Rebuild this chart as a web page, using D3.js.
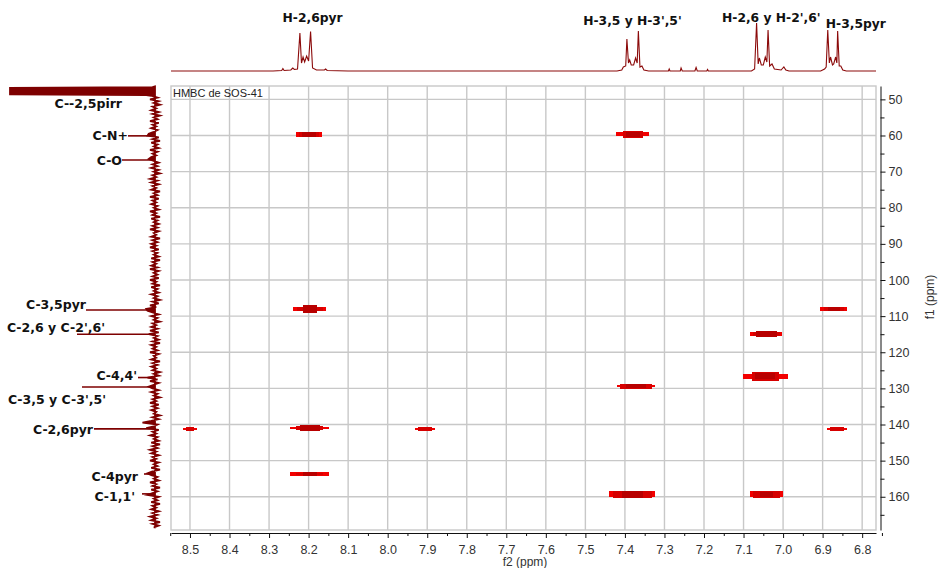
<!DOCTYPE html>
<html>
<head>
<meta charset="utf-8">
<script src="https://cdn.jsdelivr.net/npm/d3@7"></script>
<style>
  body { margin: 0; background: #fff; }
  svg { display: block; }
</style>
</head>
<body>
<svg id="chart" width="939" height="568"></svg>
<script>
// ---- Axis ticks -------------------------------------------------------
const f2Ticks = [8.5, 8.4, 8.3, 8.2, 8.1, 8.0, 7.9, 7.8, 7.7, 7.6, 7.5, 7.4, 7.3, 7.2, 7.1, 7.0, 6.9, 6.8];
const f2MinorTicks = [8.55, 8.45, 8.35, 8.25, 8.15, 8.05, 7.95, 7.85, 7.75, 7.65, 7.55, 7.45, 7.35, 7.25, 7.15, 7.05, 6.95, 6.85, 6.75];
const f1Ticks = [50, 60, 70, 80, 90, 100, 110, 120, 130, 140, 150, 160];
const f1MinorTicks = [55, 65, 75, 85, 95, 105, 115, 125, 135, 145, 155, 165];

// ---- HMBC cross peaks (f2 = 1H ppm, f1 = 13C ppm) --------------------
const peakF2 = [8.199, 7.380, 8.197, 6.872, 7.043, 7.045, 7.372, 8.500, 8.197, 7.905, 6.864, 8.197, 7.381, 7.042];
const peakF1 = [59.7, 59.7, 108.0, 108.0, 115.0, 126.7, 129.4, 141.25, 141.1, 141.25, 141.25, 153.7, 159.3, 159.3];
// contour levels per peak, outermost first: [width in f2 ppm, height in f1 ppm]
const peakContours = [
  [[0.068, 1.22], [0.051, 1.22], [0.035, 1.22]],
  [[0.083, 1.10], [0.051, 1.85], [0.035, 1.38]],
  [[0.083, 1.02], [0.066, 1.02], [0.035, 2.13]],
  [[0.068, 1.02], [0.051, 1.02], [0.030, 1.02]],
  [[0.083, 1.02], [0.068, 1.02], [0.053, 1.58]],
  [[0.114, 1.38], [0.068, 2.40], [0.051, 1.66]],
  [[0.098, 0.69], [0.083, 1.30], [0.051, 1.10]],
  [[0.035, 0.42], [0.018, 1.10]],
  [[0.098, 0.55], [0.068, 1.10], [0.051, 1.66]],
  [[0.051, 0.55], [0.035, 1.10]],
  [[0.051, 0.55], [0.035, 1.10]],
  [[0.098, 1.30], [0.068, 0.75], [0.035, 1.10]],
  [[0.116, 1.66], [0.098, 1.85], [0.051, 1.85]],
  [[0.083, 1.66], [0.068, 1.85], [0.035, 1.38]]
];

// ---- 1H projection (top trace) ---------------------------------------
const topF2 = [
  8.548, 8.290, 8.268, 8.265, 8.262, 8.245, 8.240, 8.236, 8.228, 8.222, 8.218, 8.214, 8.210, 8.205, 8.200, 8.195, 8.190, 8.180, 8.160, 8.157, 8.153, 8.100,
  7.420, 7.408, 7.404, 7.398, 7.395, 7.391, 7.388, 7.384, 7.378, 7.373, 7.369, 7.366, 7.362, 7.357, 7.352, 7.340,
  7.290, 7.288, 7.286, 7.260, 7.258, 7.255, 7.223, 7.220, 7.217, 7.193, 7.191, 7.189,
  7.080, 7.072, 7.067, 7.063, 7.060, 7.055, 7.050, 7.045, 7.041, 7.038, 7.034, 7.028, 7.022, 7.005, 6.998, 6.993, 6.985,
  6.905, 6.895, 6.891, 6.887, 6.883, 6.880, 6.875, 6.872, 6.867, 6.864, 6.862, 6.858, 6.854, 6.849, 6.840, 6.765
];
const topInt = [
  0, 0, 0.5, 2.5, 0.5, 1, 3, 1.5, 2, 38, 8, 14, 9, 15, 10, 39.5, 3, 1, 1, 2, 0.5, 0,
  0, 1, 4, 5, 32, 8, 11, 6, 6, 13, 8, 40, 4, 5, 1, 0,
  0, 2, 0, 0, 3, 0, 0, 3.5, 0, 0, 1.5, 0,
  0, 2, 48, 7, 13, 6, 6, 14, 9, 41, 5, 7, 2, 1, 4, 1, 0,
  0, 2, 4, 41, 8, 14, 6, 7, 14, 8, 40, 5, 5, 1, 0, 0
];
const protonLabels = ["H-2,6pyr", "H-3,5 y H-3',5'", "H-2,6 y H-2',6'", "H-3,5pyr"];
const protonLabelF2 = [8.190, 7.381, 7.030, 6.816];

// ---- 13C projection (left trace) -------------------------------------
const projPeakF1 = [46.4, 46.6, 46.8, 48.6, 48.8];
const projPeakVal = [0, 2, 116, 116, 7];
const projNoiseStart = 49.0, projNoiseStep = 0.5;
const projNoise = [
  3,-2,4,-3,1,-4,2,-1,3,-3,
  2,-4,1,-2,4,-3,2,-1,3,-2,
  1,5,6,-3,2,-4,3,-2,1,-3,
  4,-2,2,-1,3,5,1,-3,2,-2,
  3,-3,1,-4,2,-1,4,-2,3,-3,
  2,-1,3,-4,1,-2,4,-3,2,-1,
  3,-2,1,-3,4,-1,2,-4,3,-2,
  1,-3,2,-2,4,-3,1,-1,3,-4,
  2,-2,3,-1,4,-3,2,-2,1,-3,
  3,-4,2,-1,3,-2,4,-3,1,-2,
  2,-3,4,-1,2,-4,3,-2,1,-3,
  3,-2,1,-4,2,-3,4,-1,7,6,
  2,-3,3,-2,1,-4,2,-1,3,-2,
  4,-3,5,-2,1,-3,2,-4,3,-1,
  2,-2,4,-3,1,-1,3,-4,2,-2,
  3,-1,2,-4,1,-3,6,-2,4,-3,
  1,5,2,-3,3,-2,1,-4,2,-1,
  4,-3,2,-2,3,-1,1,-4,2,-3,
  3,10,-2,1,7,-3,2,-1,4,-2,
  1,-3,3,-4,2,-2,4,-1,3,-3,
  2,-1,4,-3,1,-2,3,-4,2,6,
  3,-2,1,-3,4,-1,2,-4,3,-2,
  2,6,-3,1,-2,3,-4,2,-1,3,
  -3,2,-2,4,-1,3,-4,2,-3,1
];
const carbonLabels = ["C--2,5pirr", "C-N+", "C-O", "C-3,5pyr", "C-2,6 y C-2',6'", "C-4,4'", "C-3,5 y C-3',5'", "C-2,6pyr", "C-4pyr", "C-1,1'"];
const carbonF1 = [47.7, 60.1, 66.8, 108.3, 115.0, 127.0, 129.6, 141.2, 153.7, 159.2];

// ---- Layout ------------------------------------------------------------
const plot = { left: 171, right: 876, top: 86, bottom: 530 };
const yAxisX = 880.5, xAxisY = 533;
const projBaseX = 155, projFarX = 10;
const topBaseY = 71, topPeakY = 21;
const protonLabelY = [18, 21, 18, 24];
// text right edge, text offset from the peak row, leader start (null = no leader)
const carbonLayout = [
  [122, 12, null], [128, 0, 128], [122, 0, 122], [86, -5, 86], [105, -7, 77],
  [137, -2, 138], [106, 13, 82], [93, 1, 94], [138, 2, 144], [135, 3, 142]
];
const contourColors = ["#f20000", "#d60000", "#b80000"];
const traceColor = "#7e0000";

const svg = d3.select("#chart");

const x = d3.scaleLinear().domain([8.548, 6.765]).range([plot.left, plot.right]);
const y = d3.scaleLinear().domain([46.3, 169.2]).range([plot.top, plot.bottom]);
const yTop = d3.scaleLinear().domain([0, 50]).range([topBaseY, topPeakY]);
const xProj = d3.scaleLinear().domain([0, 116]).range([projBaseX, projFarX]);

// plot frame and grid
const grid = svg.append("g").attr("stroke", "#c8c8c8").attr("stroke-width", 1.4).attr("fill", "none");
grid.selectAll("line.v").data(f2Ticks).join("line")
  .attr("x1", d => x(d)).attr("x2", d => x(d))
  .attr("y1", plot.top).attr("y2", plot.bottom);
grid.selectAll("line.h").data(f1Ticks).join("line")
  .attr("class", "h")
  .attr("x1", plot.left).attr("x2", plot.right)
  .attr("y1", d => y(d)).attr("y2", d => y(d));
grid.append("rect")
  .attr("x", plot.left).attr("y", plot.top)
  .attr("width", plot.right - plot.left).attr("height", plot.bottom - plot.top);

svg.append("text")
  .attr("x", plot.left + 2).attr("y", plot.top + 7)
  .attr("dominant-baseline", "central")
  .attr("font-family", "'Liberation Sans', Arial, sans-serif")
  .attr("font-size", 11).attr("fill", "#222")
  .text("HMBC de SOS-41");

// cross peaks, drawn as stacked contour levels
const peaks = peakF2.map((f2, i) => ({ f2, f1: peakF1[i], levels: peakContours[i] }));
const pg = svg.append("g").attr("shape-rendering", "crispEdges");
peaks.forEach(p => {
  p.levels.forEach(([w, h], k) => {
    const x0 = x(p.f2 + w / 2), x1 = x(p.f2 - w / 2);
    const y0 = y(p.f1 - h / 2), y1 = y(p.f1 + h / 2);
    pg.append("rect")
      .attr("x", x0).attr("y", y0)
      .attr("width", x1 - x0).attr("height", y1 - y0)
      .attr("fill", contourColors[k]);
  });
});

// axes
const fmt = d3.format(".1f");
const axisFont = "'Liberation Sans', Arial, sans-serif";
svg.append("g").attr("transform", `translate(0,${xAxisY})`)
  .call(d3.axisBottom(x).tickValues(f2Ticks).tickFormat(fmt).tickSize(5).tickSizeOuter(0).tickPadding(7));
svg.append("g").attr("transform", `translate(0,${xAxisY})`)
  .call(d3.axisBottom(x).tickValues(f2MinorTicks).tickFormat("").tickSize(3).tickSizeOuter(0))
  .select(".domain").remove();
svg.append("g").attr("transform", `translate(${yAxisX},0)`)
  .call(d3.axisRight(y).tickValues(f1Ticks).tickSize(5).tickSizeOuter(0).tickPadding(3));
svg.append("g").attr("transform", `translate(${yAxisX},0)`)
  .call(d3.axisRight(y).tickValues(f1MinorTicks).tickFormat("").tickSize(4).tickSizeOuter(0))
  .select(".domain").remove();
svg.selectAll(".tick text").attr("font-family", axisFont).attr("font-size", 12.5).attr("fill", "#333");
svg.selectAll(".domain, .tick line").attr("stroke", "#111");

svg.append("text")
  .attr("x", 525).attr("y", 562).attr("text-anchor", "middle").attr("dominant-baseline", "central")
  .attr("font-family", axisFont).attr("font-size", 12).attr("fill", "#333")
  .text("f2 (ppm)");
svg.append("text")
  .attr("transform", "translate(930,297) rotate(-90)")
  .attr("text-anchor", "middle").attr("dominant-baseline", "central")
  .attr("font-family", axisFont).attr("font-size", 12).attr("fill", "#333")
  .text("f1 (ppm)");

// 1H projection on top
const topPts = topF2.map((f, i) => [f, topInt[i]]);
svg.append("path")
  .datum(topPts)
  .attr("fill", "none").attr("stroke", "#8b0a0a").attr("stroke-width", 1.1)
  .attr("d", d3.line().x(d => x(d[0])).y(d => yTop(d[1])));

const boldFont = "'DejaVu Sans', Verdana, sans-serif";
svg.append("g").selectAll("text").data(protonLabels).join("text")
  .attr("x", (d, i) => x(protonLabelF2[i]))
  .attr("y", (d, i) => protonLabelY[i])
  .attr("text-anchor", "middle").attr("dominant-baseline", "central")
  .attr("font-family", boldFont).attr("font-weight", "bold").attr("font-size", 12.3)
  .attr("fill", "#111")
  .text(d => d);

// 13C projection on the left
const projPts = projPeakF1.map((f, i) => [f, projPeakVal[i]])
  .concat(projNoise.map((v, i) => [projNoiseStart + i * projNoiseStep, v]));
svg.append("path")
  .datum(projPts)
  .attr("fill", traceColor).attr("stroke", traceColor).attr("stroke-width", 1.8)
  .attr("stroke-linejoin", "miter")
  .attr("d", d3.area().y(d => y(d[0])).x0(projBaseX).x1(d => xProj(d[1])));

// carbon assignments with leader lines
const cl = svg.append("g");
carbonLabels.forEach((label, i) => {
  const [tx, dy, lx] = carbonLayout[i];
  const ly = y(carbonF1[i]);
  if (lx !== null) {
    cl.append("line")
      .attr("x1", lx).attr("x2", projBaseX)
      .attr("y1", ly).attr("y2", ly)
      .attr("stroke", traceColor).attr("stroke-width", 1.6);
  }
  cl.append("text")
    .attr("x", tx).attr("y", ly + dy)
    .attr("text-anchor", "end").attr("dominant-baseline", "central")
    .attr("font-family", boldFont).attr("font-weight", "bold").attr("font-size", 12.5)
    .attr("fill", "#111")
    .text(label);
});
</script>
</body>
</html>
